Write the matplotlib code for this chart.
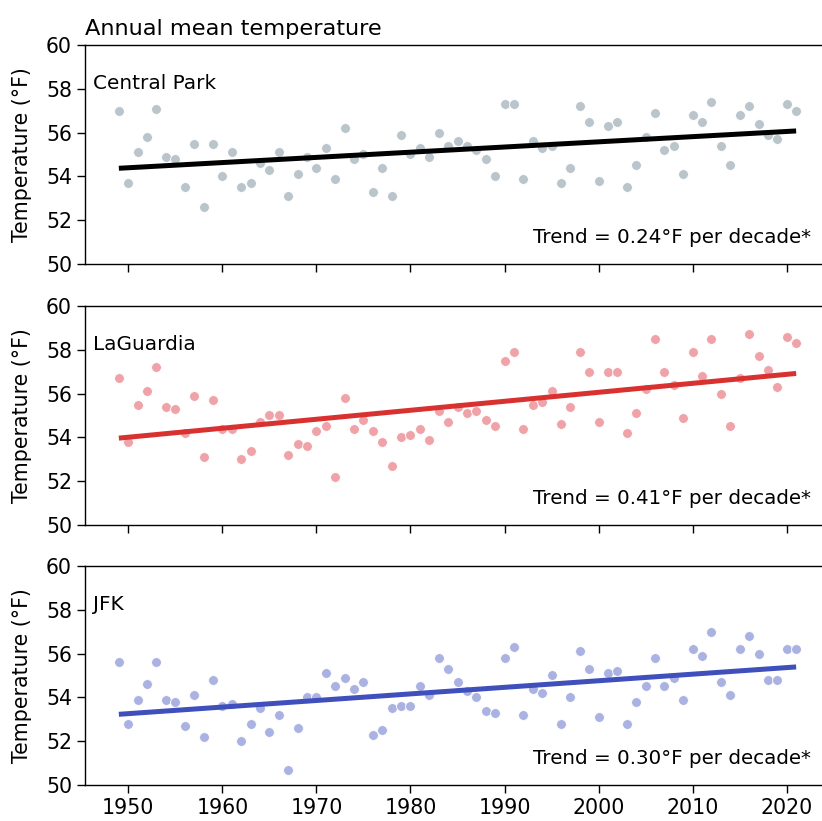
import numpy as np
import matplotlib
matplotlib.use("Agg")
import matplotlib.pyplot as plt

years = list(range(1949, 2022))

central_park = [57.0, 53.7, 55.1, 55.8, 57.1, 54.9, 54.8, 53.5, 55.5, 52.6,
                55.5, 54.0, 55.1, 53.5, 53.7, 54.6, 54.3, 55.1, 53.1, 54.1,
                54.9, 54.4, 55.3, 53.9, 56.2, 54.8, 55.0, 53.3, 54.4, 53.1,
                55.9, 55.0, 55.3, 54.9, 56.0, 55.4, 55.6, 55.4, 55.2, 54.8,
                54.0, 57.3, 57.3, 53.9, 55.6, 55.3, 55.4, 53.7, 54.4, 57.2,
                56.5, 53.8, 56.3, 56.5, 53.5, 54.5, 55.8, 56.9, 55.2, 55.4,
                54.1, 56.8, 56.5, 57.4, 55.4, 54.5, 56.8, 57.2, 56.4, 55.9,
                55.7, 57.3, 57.0]

laguardia = [56.7, 53.8, 55.5, 56.1, 57.2, 55.4, 55.3, 54.2, 55.9, 53.1,
             55.7, 54.4, 54.4, 53.0, 53.4, 54.7, 55.0, 55.0, 53.2, 53.7,
             53.6, 54.3, 54.5, 52.2, 55.8, 54.4, 54.8, 54.3, 53.8, 52.7,
             54.0, 54.1, 54.4, 53.9, 55.2, 54.7, 55.4, 55.1, 55.2, 54.8,
             54.5, 57.5, 57.9, 54.4, 55.5, 55.6, 56.1, 54.6, 55.4, 57.9,
             57.0, 54.7, 57.0, 57.0, 54.2, 55.1, 56.2, 58.5, 57.0, 56.4,
             54.9, 57.9, 56.8, 58.5, 56.0, 54.5, 56.7, 58.7, 57.7, 57.1,
             56.3, 58.6, 58.3]

jfk = [55.6, 52.8, 53.9, 54.6, 55.6, 53.9, 53.8, 52.7, 54.1, 52.2,
       54.8, 53.6, 53.7, 52.0, 52.8, 53.5, 52.4, 53.2, 50.7, 52.6,
       54.0, 54.0, 55.1, 54.5, 54.9, 54.4, 54.7, 52.3, 52.5, 53.5,
       53.6, 53.6, 54.5, 54.1, 55.8, 55.3, 54.7, 54.3, 54.0, 53.4,
       53.3, 55.8, 56.3, 53.2, 54.4, 54.2, 55.0, 52.8, 54.0, 56.1,
       55.3, 53.1, 55.1, 55.2, 52.8, 53.8, 54.5, 55.8, 54.5, 54.9,
       53.9, 56.2, 55.9, 57.0, 54.7, 54.1, 56.2, 56.8, 56.0, 54.8,
       54.8, 56.2, 56.2]

stations = ["Central Park", "LaGuardia", "JFK"]
trend_labels = ["Trend = 0.24°F per decade*",
                "Trend = 0.41°F per decade*",
                "Trend = 0.30°F per decade*"]
y_ticks = [50, 52, 54, 56, 58, 60]
x_ticks = [1950, 1960, 1970, 1980, 1990, 2000, 2010, 2020]

point_colors = ["#b9c4cb", "#efa3a8", "#aab2e2"]
line_colors = ["#000000", "#d8312f", "#3f4fbb"]

fig = plt.figure(figsize=(8.22, 8.21), dpi=100)
W, H = 822, 821
left_px, right_px = 85, 830
panels_px = [(45, 264), (306, 525), (566, 785)]

x = np.array(years, dtype=float)
for i, (series, name, tlabel) in enumerate(zip([central_park, laguardia, jfk], stations, trend_labels)):
    top, bot = panels_px[i]
    ax = fig.add_axes([left_px / W, 1 - bot / H, (right_px - left_px) / W, (bot - top) / H])
    y = np.array(series)
    ax.scatter(x, y, s=50, color=point_colors[i], edgecolor="white", linewidth=0.6, zorder=2)
    coef = np.polyfit(x, y, 1)
    ax.plot(x, np.polyval(coef, x), color=line_colors[i], lw=3.6, zorder=3, solid_capstyle="butt")
    ax.set_xlim(1945.4, 2024.6)
    ax.set_ylim(50, 60)
    ax.set_yticks(y_ticks)
    ax.set_xticks(x_ticks)
    ax.tick_params(labelsize=14.8, length=5.8, width=1.0)
    if i < 2:
        ax.tick_params(labelbottom=False)
    for sp in ax.spines.values():
        sp.set_linewidth(1.0)
    ax.set_ylabel("Temperature (°F)", fontsize=14.8, labelpad=10)
    ax.text(0.011, 0.826, name, transform=ax.transAxes, fontsize=14.4, va="center", ha="left")
    ax.text(0.9745, 0.119, tlabel, transform=ax.transAxes, fontsize=14.3, va="center", ha="right")
    if i == 0:
        ax.set_title("Annual mean temperature", loc="left", fontsize=16.2, pad=7)

fig.savefig("out.png", dpi=100)
